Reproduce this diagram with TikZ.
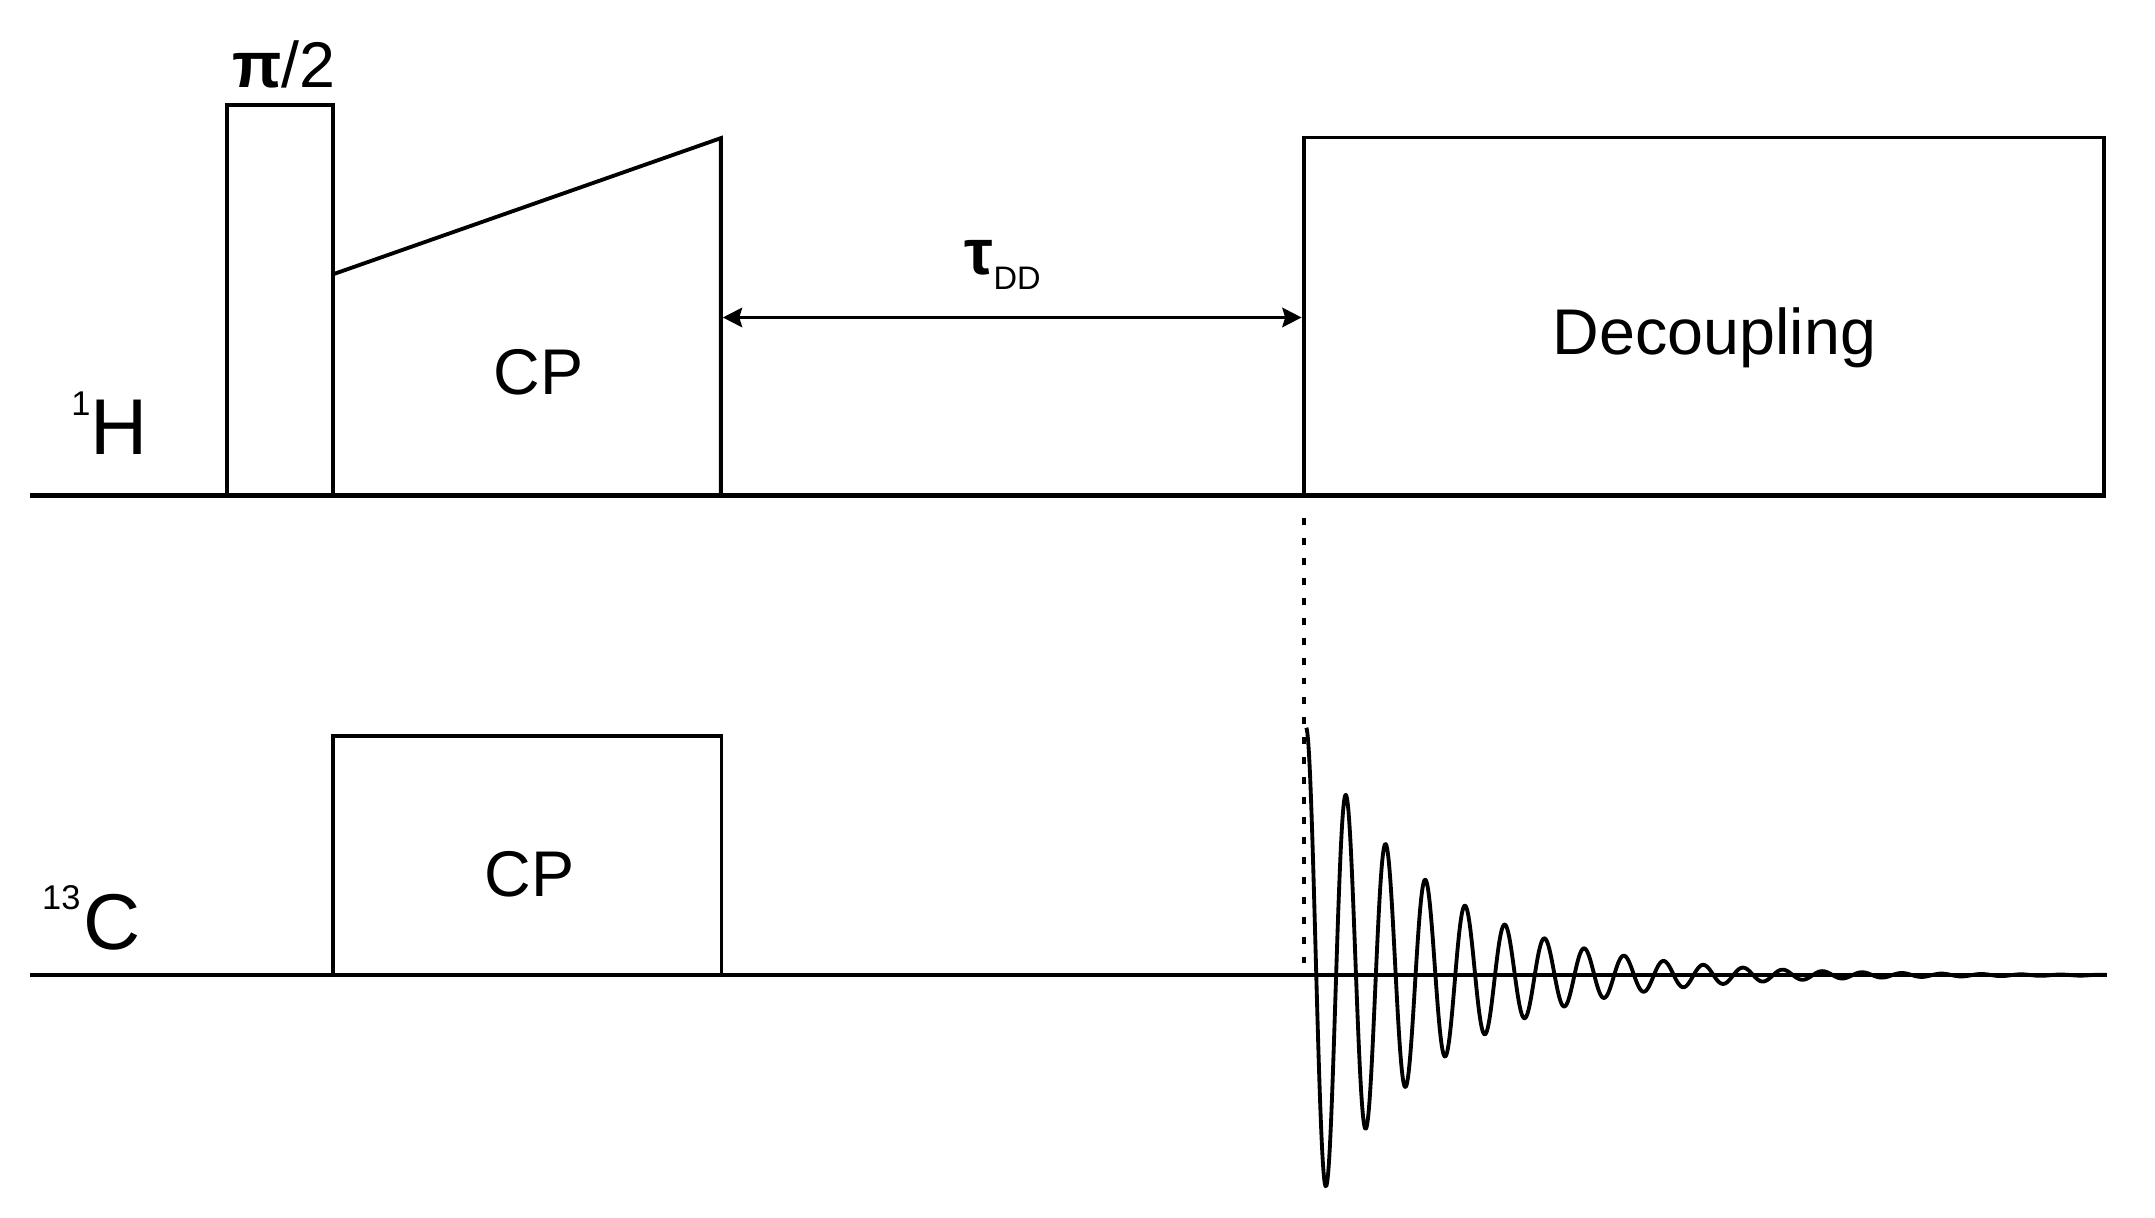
\documentclass[tikz,border=0pt]{standalone}
\usepackage{fontspec}
\setmainfont{Liberation Sans}
\usetikzlibrary{arrows.meta}
\begin{document}
\begin{tikzpicture}[x=1pt,y=-1pt,
  pulse/.style={line width=2.8pt, line join=miter},
  axisline/.style={line width=3pt},
  lbl/.style={inner sep=0pt, outer sep=0pt, anchor=base},
  big/.style={font=\fontsize{47}{50}\selectfont},
  >={Stealth[length=14pt,width=14pt,inset=2pt]},
]
\useasboundingbox (0,0) rectangle (1568,886);
% 1H channel
\draw[axisline] (22,360.5) -- (1532,360.5);
\draw[pulse] (165,360) -- (165,76.5) -- (242.5,76.5) -- (242.5,360);
\draw[pulse] (242.5,199.5) -- (524.5,100.5) -- (524.5,360);
\draw[pulse] (948.5,360) -- (948.5,100) -- (1531,100) -- (1531,360);
\coordinate (cpend) at (524.5,231);
\coordinate (decstart) at (948.5,231);
\draw[line width=2.8pt, <->, shorten <=1.4pt, shorten >=1.4pt] (cpend) -- (decstart);
\node[lbl,big] (pi) at (206.5,64) {\textbf{π}/2};
\node[lbl,big] (cpH) at (392,287) {CP};
\node[lbl,big] (dec) at (1247.5,258) {Decoupling};
\node[lbl,big,anchor=base west] (tau) at (702,200) {\textbf{τ}\raisebox{-11pt}{\fontsize{23.7}{25}\selectfont DD}};
\node[lbl,anchor=base west] (hlab) at (51.9,331) {\raisebox{29pt}{\fontsize{25}{26}\selectfont 1}\fontsize{57.6}{60}\selectfont H};
% 13C channel
\draw[axisline] (22,709.5) -- (1533,709.5);
\draw[pulse] (242.5,709.5) -- (242.5,535.5) -- (525,535.5) -- (525,709.5);
\node[lbl,big] (cpC) at (385.5,652.5) {CP};
\node[lbl,anchor=base west] (clab) at (30.7,691) {\raisebox{29pt}{\fontsize{25}{26}\selectfont 13}\kern2pt\fontsize{57.6}{60}\selectfont C};
\coordinate (dtop) at (948.5,377);
\coordinate (dbot) at (948.5,703);
\draw[line width=3pt, dash pattern=on 5pt off 9.5pt] (dtop) -- (dbot);
\draw[line width=2.8pt, line join=round] plot[domain=0:582, samples=1500, variable=\t] ({950.5+\t},{709.5-180*exp(-0.011*\t)*cos(12.4567*\t)});
\end{tikzpicture}
\end{document}
